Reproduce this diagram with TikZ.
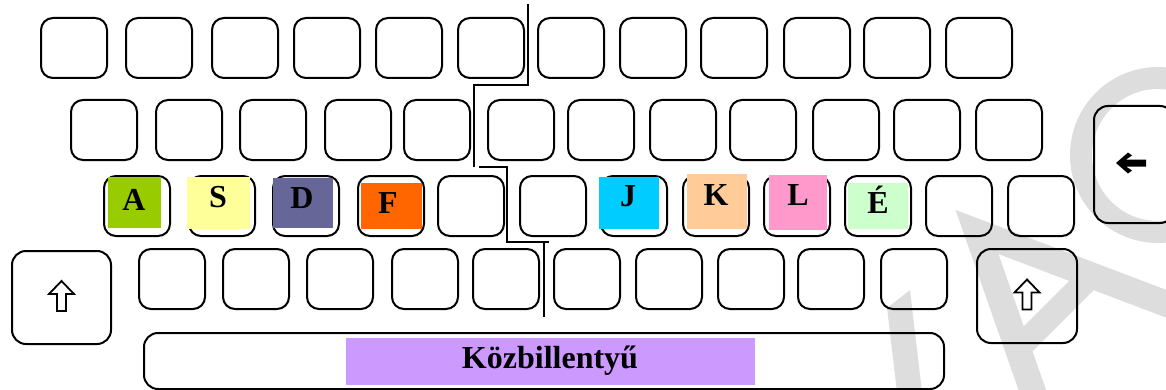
\documentclass[tikz,border=0pt]{standalone}
\usepackage{fontspec}
\setmainfont{Liberation Serif}
\usepackage{xcolor}
\usepackage{tikz}
\usetikzlibrary{positioning,calc}

\definecolor{cA}{HTML}{99CC00}
\definecolor{cS}{HTML}{FFFF99}
\definecolor{cD}{HTML}{666699}
\definecolor{cF}{HTML}{FF6600}
\definecolor{cJ}{HTML}{00CCFF}
\definecolor{cK}{HTML}{FFCC99}
\definecolor{cL}{HTML}{FF99CC}
\definecolor{cE}{HTML}{CCFFCC}
\definecolor{cSpace}{HTML}{CC99FF}
\definecolor{wmgray}{HTML}{DDDDDD}

\begin{document}
\begin{tikzpicture}[
    x=0.5pt, y=-0.5pt,
    key/.style={draw, line width=1pt, rounded corners=6pt, anchor=north west, minimum width=33pt, minimum height=30pt, inner sep=0pt},
    bigkey/.style={key, rounded corners=7pt},
    patch/.style={inner sep=0pt, outer sep=0pt},
    letter/.style={anchor=base, inner sep=0pt, font=\fontsize{16}{16}\selectfont\bfseries},
    divider/.style={line width=1pt},
    wm/.style={draw=wmgray, line join=miter, line cap=butt}
]
\useasboundingbox (0,0) rectangle (1166,390);
\clip (0,0) rectangle (1166,390);

% watermark in the background
\draw[wm, line width=13pt] (1047,432) -- (977,232) -- (1180,309);
\draw[wm, line width=12pt] (1018,349) -- (1087,280);
\fill[wmgray] (887,308) -- (910,290) -- (922,392) -- (897,392) -- cycle;
\draw[wm, line width=11pt] (1158,155) circle[radius=77];

% top row
\node[key] (top1)  at (40,17) {};
\node[key] (top2)  at (125,17) {};
\node[key] (top3)  at (211,17) {};
\node[key] (top4)  at (293,17) {};
\node[key] (top5)  at (375,17) {};
\node[key] (top6)  at (457,17) {};
\node[key] (top7)  at (537,17) {};
\node[key] (top8)  at (619,17) {};
\node[key] (top9)  at (700,17) {};
\node[key] (top10) at (783,17) {};
\node[key] (top11) at (863,17) {};
\node[key] (top12) at (945,17) {};

% second row
\node[key] (up1)  at (70,99) {};
\node[key] (up2)  at (155,99) {};
\node[key] (up3)  at (239,99) {};
\node[key] (up4)  at (324,99) {};
\node[key] (up5)  at (403,99) {};
\node[key] (up6)  at (487,99) {};
\node[key] (up7)  at (567,99) {};
\node[key] (up8)  at (649,99) {};
\node[key] (up9)  at (729,99) {};
\node[key] (up10) at (812,99) {};
\node[key] (up11) at (893,99) {};
\node[key] (up12) at (975,99) {};

% home row
\node[key] (home1)  at (103,175) {};
\node[key] (home2)  at (188,175) {};
\node[key] (home3)  at (272,175) {};
\node[key] (home4)  at (357,175) {};
\node[key] (home5)  at (437,175) {};
\node[key] (home6)  at (519,175) {};
\node[key] (home7)  at (600,175) {};
\node[key] (home8)  at (682,175) {};
\node[key] (home9)  at (763,175) {};
\node[key] (home10) at (844,175) {};
\node[key] (home11) at (925,175) {};
\node[key] (home12) at (1007,175) {};

% bottom row
\node[key] (low1)  at (138,248) {};
\node[key] (low2)  at (222,248) {};
\node[key] (low3)  at (306,248) {};
\node[key] (low4)  at (391,248) {};
\node[key] (low5)  at (472,248) {};
\node[key] (low6)  at (553,248) {};
\node[key] (low7)  at (635,248) {};
\node[key] (low8)  at (717,248) {};
\node[key] (low9)  at (797,248) {};
\node[key] (low10) at (880,248) {};

% special keys
\node[bigkey, minimum width=49.5pt, minimum height=46.5pt] (lshift) at (11,250) {};
\node[bigkey, minimum width=50pt, minimum height=47pt] (rshift) at (976,248) {};
\node[bigkey, minimum width=40pt, minimum height=58.5pt] (enter) at (1093,105) {};
\node[bigkey, minimum width=400pt, minimum height=28pt] (space) at (143,332) {};

% home keys
\node[patch, fill=cA, minimum width=26.5pt, minimum height=25.5pt] (pA) at (134.5,202.5) {};
\node[patch, fill=cS, minimum width=31.5pt, minimum height=26pt] (pS) at (218.5,203) {};
\node[patch, fill=cD, minimum width=30pt, minimum height=25pt] (pD) at (303,203) {};
\node[patch, fill=cF, minimum width=30.5pt, minimum height=23pt] (pF) at (391.5,206) {};
\node[patch, fill=cJ, minimum width=30pt, minimum height=26pt] (pJ) at (629,203) {};
\node[patch, fill=cK, minimum width=30pt, minimum height=27.5pt] (pK) at (717,201.5) {};
\node[patch, fill=cL, minimum width=29pt, minimum height=27.5pt] (pL) at (798,202.5) {};
\node[patch, fill=cE, minimum width=30pt, minimum height=23pt] (pE) at (878,206) {};
\node[letter] (tA) at (134,210) {A};
\node[letter] (tS) at (218,207) {S};
\node[letter] (tD) at (302,208) {D};
\node[letter] (tF) at (388,213) {F};
\node[letter] (tJ) at (628,206) {J};
\node[letter] (tK) at (716,205) {K};
\node[letter] (tL) at (798,205) {L};
\node[letter] (tE) at (878,213) {É};

% space bar label
\node[patch, fill=cSpace, minimum width=204.5pt, minimum height=23.5pt] (pSpace) at (550.5,361.5) {};
\node[letter] (tSpace) at (550,368) {Közbillentyű};

% shift and backspace arrows
\begin{scope}[shift={(lshift.center)}]
  \draw[line width=0.9pt, line join=miter] (0,-16.5) -- (12.5,-3.5) -- (4.5,-3.5) -- (4.5,13.5) -- (-4.5,13.5) -- (-4.5,-3.5) -- (-12.5,-3.5) -- cycle;
\end{scope}
\begin{scope}[shift={(rshift.center)}]
  \draw[line width=0.9pt, line join=miter] (0,-16.5) -- (12.5,-3.5) -- (4.5,-3.5) -- (4.5,13.5) -- (-4.5,13.5) -- (-4.5,-3.5) -- (-12.5,-3.5) -- cycle;
\end{scope}
\begin{scope}[shift={(enter.center)}]
  \fill (-18,-1.5) -- (-6,-12) -- (-2,-9) -- (-8,-5) -- (12,-5) -- (12,2) -- (-8,2) -- (-2,6) -- (-6,9) -- cycle;
\end{scope}

% dividing line between the hands
\draw[divider] (528,4) -- (528,85) -- (474,85) -- (474,167);
\draw[divider] (479,167) -- (507,167) -- (507,242) -- (549,242);
\draw[divider] (544,242) -- (544,317);
\end{tikzpicture}
\end{document}
